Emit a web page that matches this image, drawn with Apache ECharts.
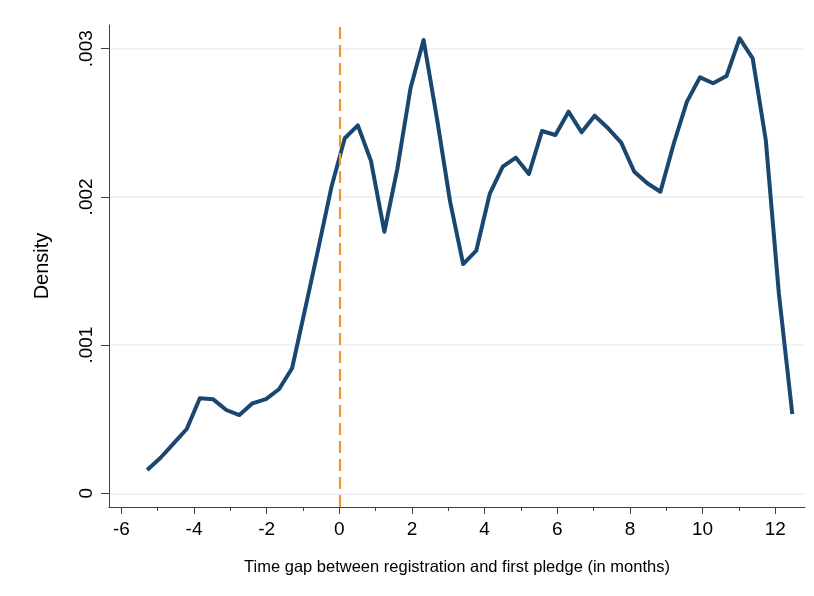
<!DOCTYPE html>
<html>
<head>
<meta charset="utf-8">
<script src="https://cdn.jsdelivr.net/npm/echarts@6/dist/echarts.min.js"></script>
<style>
html,body{margin:0;padding:0;background:#fff;}
#chart{width:814px;height:596px;}
</style>
</head>
<body>
<div id="chart"></div>
<script>
// Data
const months = [-5.29,-4.92,-4.56,-4.20,-3.84,-3.47,-3.11,-2.75,-2.39,-2.02,
  -1.66,-1.30,-0.94,-0.58,-0.21,0.15,0.51,0.87,1.24,1.60,
  1.96,2.32,2.69,3.05,3.41,3.77,4.14,4.50,4.86,5.22,
  5.58,5.95,6.31,6.67,7.03,7.40,7.76,8.12,8.48,8.84,
  9.21,9.57,9.93,10.29,10.66,11.02,11.38,11.74,12.10,12.47];
const density = [0.000157,0.000240,0.000337,0.000434,0.000641,0.000634,0.000562,0.000528,0.000607,0.000636,
  0.000702,0.000844,0.001244,0.001649,0.002074,0.002396,0.002483,0.002244,0.001765,0.002193,
  0.002733,0.003059,0.002526,0.001968,0.001547,0.001637,0.002020,0.002204,0.002265,0.002155,
  0.002445,0.002418,0.002575,0.002436,0.002548,0.002463,0.002366,0.002170,0.002092,0.002035,
  0.002362,0.002643,0.002807,0.002767,0.002816,0.003070,0.002935,0.002384,0.001350,0.000535];
const xMajorTicks = [-6,-4,-2,0,2,4,6,8,10,12];
const xMinorTicks = [-5,-3,-1,1,3,5,7,9,11];
const yTicks = [0,0.001,0.002,0.003];
const yTickLabels = ['0','.001','.002','.003'];
const refLineX = 0;

const X_MIN = -6.34, X_MAX = 12.82, Y_MIN = -0.0000925, Y_MAX = 0.00316;
const axisColor = '#404040';
const font = 'Liberation Sans, Arial, sans-serif';

const chart = echarts.init(document.getElementById('chart'), null, {renderer:'canvas'});
chart.setOption({
  backgroundColor:'#ffffff',
  animation:false,
  grid:{left:109, right:9, top:25, bottom:89, containLabel:false},
  xAxis:[{
    type:'value', min:X_MIN, max:X_MAX, position:'bottom',
    axisLine:{show:true, onZero:false, lineStyle:{color:axisColor, width:1}},
    axisTick:{show:true, customValues:xMajorTicks, length:7, lineStyle:{color:axisColor, width:1}},
    axisLabel:{show:true, customValues:xMajorTicks, margin:13, color:'#000', fontSize:19, fontFamily:font,
      formatter:v=>String(v)},
    splitLine:{show:false},
    name:'Time gap between registration and first pledge (in months)',
    nameLocation:'middle', nameGap:52,
    nameTextStyle:{color:'#000', fontSize:16.5, fontFamily:font}
  },{
    type:'value', min:X_MIN, max:X_MAX, position:'bottom',
    axisLine:{show:false, onZero:false},
    axisTick:{show:true, customValues:xMinorTicks, length:4, lineStyle:{color:axisColor, width:1}},
    axisLabel:{show:false},
    splitLine:{show:false}
  }],
  yAxis:{
    type:'value', min:Y_MIN, max:Y_MAX,
    axisLine:{show:true, onZero:false, lineStyle:{color:axisColor, width:1}},
    axisTick:{show:true, customValues:yTicks, length:8, lineStyle:{color:axisColor, width:1}},
    axisLabel:{show:true, customValues:yTicks, rotate:90, margin:13, color:'#000', fontSize:19, fontFamily:font,
      formatter:v=>{const i=yTicks.findIndex(t=>Math.abs(t-v)<1e-9); return i>=0?yTickLabels[i]:'';}},
    splitLine:{show:true, lineStyle:{color:'#e8f0f2', width:1.5}},
    name:'Density', nameLocation:'middle', nameGap:57,
    nameTextStyle:{color:'#000', fontSize:20, fontFamily:font}
  },
  series:[{
    type:'line', data:[], z:2, silent:true,
    markLine:{silent:true, symbol:['none','none'], label:{show:false},
      lineStyle:{color:'#ec982e', width:2.2, type:[12,6]},
      data:[{xAxis:refLineX}]}
  },{
    type:'line', z:3,
    data:months.map((m,i)=>[m,density[i]]),
    showSymbol:false, symbol:'none',
    lineStyle:{color:'#1a476f', width:4, join:'round'}
  }]
});
</script>
</body>
</html>
